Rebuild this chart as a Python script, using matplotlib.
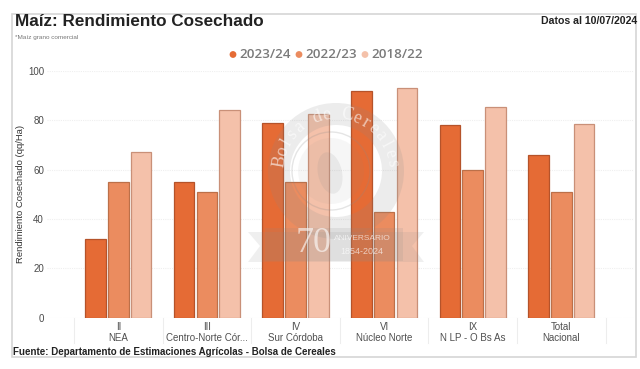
import matplotlib
matplotlib.use("Agg")
import matplotlib.pyplot as plt
from matplotlib.patches import Circle, Rectangle, Polygon, Ellipse, Wedge
import numpy as np

categories = ["II\nNEA", "III\nCentro-Norte Cór...", "IV\nSur Córdoba", "VI\nNúcleo Norte", "IX\nN LP - O Bs As", "Total\nNacional"]
series_names = ["2023/24", "2022/23", "2018/22"]
v2324 = [32, 55, 79, 92, 78, 66]
v2223 = [55, 51, 55, 43, 60, 51]
v1822 = [67, 84, 82.5, 93, 85.5, 78.5]
fills = ["#E56B35", "#EB8C5F", "#F4C1AA"]
edges = ["#B5532A", "#BC7049", "#C99078"]

W, H = 640, 369
plt.rcParams['font.family'] = ['Liberation Sans', 'DejaVu Sans']
fig = plt.figure(figsize=(W/100, H/100), dpi=100, facecolor='white')
def fx(p): return p/W
def fy(p): return 1-p/H

# outer frame
fig.add_artist(Rectangle((fx(11.5), fy(357)), (635.5-11.5)/W, (357-13.5)/H, transform=fig.transFigure,
                         fill=False, ec='#D6D6D6', lw=1.2))

left, right, top, bottom = 47, 634, 71, 317.5
ax = fig.add_axes([fx(left), fy(bottom), (right-left)/W, (bottom-top)/H])
cw = 88.6
x0 = 118.3
ax.set_xlim((left-x0)/cw, (right-x0)/cw)
ax.set_ylim(0, 100)
ax.set_facecolor('none')
for s in ax.spines.values():
    s.set_visible(False)
ax.set_yticks([0, 20, 40, 60, 80, 100])
ax.yaxis.grid(True, color='#EFEFEF', lw=0.8, ls=(0, (1, 1)))
ax.set_axisbelow(True)
ax.tick_params(axis='y', length=0, labelsize=7, labelcolor='#4A4A4A', pad=2.2)
ax.tick_params(axis='x', length=0, labelsize=7, labelcolor='#4F4F4F', pad=3)
ax.set_ylabel("Rendimiento Cosechado (qq/Ha)", fontsize=6.8, color='#333333')
ax.yaxis.set_label_coords((25-left)/(right-left), 0.5)

xs = np.arange(len(categories))
step, bw = 0.258, 0.232
for i, vals in enumerate([v2324, v2223, v1822]):
    ax.bar(xs + (i-1)*step, vals, width=bw, color=fills[i], edgecolor=edges[i], lw=0.9, zorder=3)
ax.set_xticks(xs)
ax.set_xticklabels(categories, linespacing=1.15)

# category separators below the axis
for k in range(7):
    sx = k - 0.5
    ax.plot([sx, sx], [0, -10.5], color='#EDEDED', lw=0.8, clip_on=False, zorder=1)

# watermark, over the bars
wax = fig.add_axes([0, 0, 1, 1], facecolor='none')
wax.set_xlim(0, W); wax.set_ylim(H, 0); wax.axis('off')
g = '#8A8A8A'
cx, cy = 336, 171
wax.add_patch(Wedge((cx, cy), 68, 0, 360, width=22, fc=g, alpha=0.16, ec='none'))
wax.add_patch(Circle((cx-5, cy), 39, fc='none', ec=g, lw=1.0, alpha=0.22))
wax.add_patch(Circle((cx-5, cy), 33, fc=g, alpha=0.07, ec='none'))
wax.add_patch(Ellipse((cx-6, cy+2), 24, 42, angle=-12, fc=g, alpha=0.13, ec='none'))
seal_text = "Bolsa de Cereales"
for ch, ang in zip(seal_text, np.linspace(190, 352, len(seal_text))):
    a = np.radians(ang)
    wax.text(cx + 57*np.cos(a), cy + 57*np.sin(a), ch, fontsize=13, family='Liberation Serif', color='white',
             alpha=0.6, rotation=-(ang+90), ha='center', va='center', rotation_mode='anchor')
wax.add_patch(Polygon([(248, 232), (424, 232), (412, 246), (424, 262), (248, 262), (260, 246)], fc=g, alpha=0.13, ec='none'))
wax.add_patch(Rectangle((265, 228), 138, 33, fc=g, alpha=0.15, ec='none'))
wax.text(314, 244, "70", fontsize=26, family='Liberation Serif', color='white', alpha=0.6, ha='center', va='center')
wax.text(362, 239, "ANIVERSARIO", fontsize=6, color='white', alpha=0.65, ha='center', va='center')
wax.text(362, 251, "1854-2024", fontsize=6.5, color='white', alpha=0.65, ha='center', va='center')

# texts
fig.text(fx(15), fy(21.5), "Maíz: Rendimiento Cosechado", fontsize=12.3, fontweight='bold', color='#222222', va='center')
fig.text(fx(637), fy(21), "Datos al 10/07/2024", fontsize=7.55, fontweight='bold', color='#222222', va='center', ha='right')
fig.text(fx(15), fy(37), "*Maíz grano comercial", fontsize=4.6, color='#777777', va='center')
fig.text(fx(13), fy(352), "Fuente: Departamento de Estimaciones Agrícolas - Bolsa de Cereales", fontsize=7.05, fontweight='bold', color='#222222', va='center')

# legend
lx = [233, 299, 365]
for name, c, px in zip(series_names, fills, lx):
    wax.add_patch(Circle((px, 54.5), 3.4, fc=c, ec='none'))
    wax.text(px+6, 55, name, fontsize=9.6, fontweight='semibold', family=['Open Sans'], color='#7A7A7A', va='center', ha='left')

fig.savefig("out.png", dpi=100)
